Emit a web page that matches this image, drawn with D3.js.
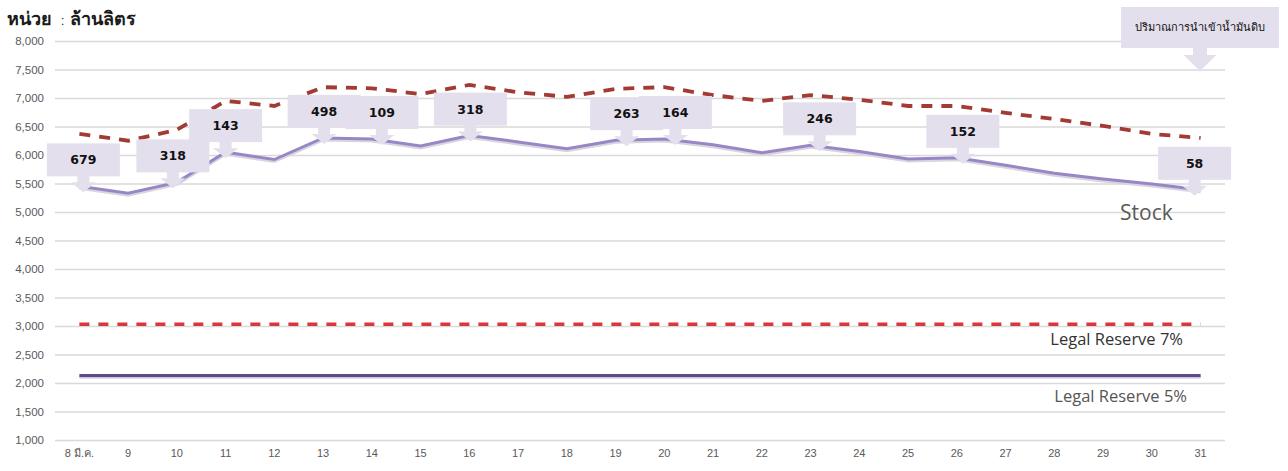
<!DOCTYPE html>
<html>
<head>
<meta charset="utf-8">
<script src="https://cdn.jsdelivr.net/npm/d3@7"></script>
<style>
  body { margin: 0; background: #fff; }
  svg { display: block; font-family: "Liberation Sans", Arial, "Noto Sans", sans-serif; }
</style>
</head>
<body>
<svg id="chart" width="1288" height="471"></svg>
<script>
// ---- data ----
const days = ["8 มี.ค.", "9", "10", "11", "12", "13", "14", "15", "16", "17", "18", "19",
              "20", "21", "22", "23", "24", "25", "26", "27", "28", "29", "30", "31"];
const stock = [5450, 5330, 5520, 6050, 5920, 6300, 6280, 6160, 6340, 6230, 6110, 6260,
               6280, 6180, 6040, 6170, 6060, 5930, 5950, 5820, 5680, 5580, 5490, 5390];
const stockPlusImport = [6370, 6250, 6440, 6950, 6860, 7190, 7170, 7070, 7230, 7100, 7020, 7160,
                         7190, 7050, 6950, 7050, 6970, 6860, 6860, 6740, 6630, 6510, 6370, 6300];
const legalReserve7 = 3030;
const legalReserve5 = 2130;
const importDays = ["8 มี.ค.", "10", "11", "13", "14", "16", "19", "20", "23", "26", "31"];
const importValues = [679, 318, 143, 498, 109, 318, 263, 164, 246, 152, 58];
const yTicks = [1000, 1500, 2000, 2500, 3000, 3500, 4000, 4500, 5000, 5500, 6000, 6500, 7000, 7500, 8000];

// ---- layout (not data) ----
const calloutNudge = [4, -4, 0, 1, 10, 1, 11, 11, 9, 6, -6];

const svg = d3.select("#chart");
const x = d3.scaleBand().domain(days).range([55, 1225]).padding(0);
const y = d3.scaleLinear().domain([1000, 8000]).range([440, 41]);
const cx = d => x(d) + x.bandwidth() / 2;

// grid + y labels
const yAxis = svg.append("g").attr("transform", "translate(55,0)")
  .call(d3.axisLeft(y).tickValues(yTicks).tickSize(-1170).tickSizeOuter(0).tickPadding(11)
    .tickFormat(d3.format(",")));
yAxis.select(".domain").remove();
yAxis.selectAll(".tick line").attr("stroke", "#d9d9d9").attr("stroke-width", 1.3);
yAxis.selectAll(".tick text").attr("fill", "#595959").attr("font-size", 11.5)
  .attr("font-family", "'Liberation Sans', Arial, sans-serif");

// x labels
const xAxis = svg.append("g").attr("transform", "translate(0,440)")
  .call(d3.axisBottom(x).tickSize(0).tickPadding(9));
xAxis.select(".domain").remove();
xAxis.selectAll(".tick text").attr("fill", "#595959").attr("font-size", 11);

// title
svg.append("text").attr("x", 7).attr("y", 25).attr("font-size", 18).attr("font-weight", "bold")
  .attr("fill", "#1a1a1a")
  .html('หน่วย <tspan font-size="12" font-weight="normal" dx="4">:</tspan><tspan dx="6">ล้านลิตร</tspan>');

// legal reserve lines
const x0 = cx(days[0]), x1 = cx(days[days.length - 1]);
svg.append("line").attr("x1", x0).attr("x2", x1)
  .attr("y1", y(legalReserve7)).attr("y2", y(legalReserve7))
  .attr("stroke", "#d9363e").attr("stroke-width", 3.5).attr("stroke-dasharray", "10,9");
svg.append("line").attr("x1", x0).attr("x2", x1)
  .attr("y1", y(legalReserve5) + 1.5).attr("y2", y(legalReserve5) + 1.5)
  .attr("stroke", "#c9c3d6").attr("stroke-width", 3);
svg.append("line").attr("x1", x0).attr("x2", x1)
  .attr("y1", y(legalReserve5)).attr("y2", y(legalReserve5))
  .attr("stroke", "#5c4a8a").attr("stroke-width", 3);

// lines
const line = d3.line().x((d, i) => cx(days[i])).y(d => y(d));
svg.append("path").datum(stockPlusImport).attr("d", line).attr("fill", "none")
  .attr("stroke", "#a33b35").attr("stroke-width", 3.8).attr("stroke-dasharray", "11,9");
svg.append("path").datum(stock).attr("d", line).attr("fill", "none")
  .attr("stroke", "#d8d5de").attr("stroke-width", 3).attr("transform", "translate(0,2)");
svg.append("path").datum(stock).attr("d", line).attr("fill", "none")
  .attr("stroke", "#9887c6").attr("stroke-width", 3);

// text labels
svg.append("text").attr("x", 1120).attr("y", 220).attr("font-size", 21)
  .attr("font-family", "'Open Sans', 'Noto Sans', sans-serif").attr("fill", "#595959").text("Stock");
svg.append("text").attr("x", 1183).attr("y", 345).attr("text-anchor", "end").attr("font-size", 16.5)
  .attr("font-family", "'Open Sans', 'Noto Sans', sans-serif").attr("fill", "#333").text("Legal Reserve 7%");
svg.append("text").attr("x", 1187).attr("y", 402).attr("text-anchor", "end").attr("font-size", 16.5)
  .attr("font-family", "'Open Sans', 'Noto Sans', sans-serif").attr("fill", "#555").text("Legal Reserve 5%");

// callouts
const fill = "#e4dfec";
function callout(g, tipX, tipY, boxW, boxH, stemW, stemH, headW, headH, boxCx) {
  const bBottom = tipY - headH - stemH;
  g.append("rect").attr("x", boxCx - boxW / 2).attr("y", bBottom - boxH)
    .attr("width", boxW).attr("height", boxH).attr("fill", fill);
  g.append("path").attr("fill", fill).attr("d",
    `M${tipX - stemW / 2},${bBottom - 1} L${tipX + stemW / 2},${bBottom - 1} L${tipX + stemW / 2},${bBottom + stemH}
     L${tipX + headW / 2},${bBottom + stemH} L${tipX},${tipY} L${tipX - headW / 2},${bBottom + stemH}
     L${tipX - stemW / 2},${bBottom + stemH} Z`);
  return bBottom - boxH;
}
const cg = svg.append("g");
importDays.forEach((d, k) => {
  const i = days.indexOf(d);
  const px = cx(d) + calloutNudge[k];
  const tipY = y(stock[i]) + 6;
  const g = cg.append("g");
  const top = callout(g, px, tipY, 73, 33, 12, 6, 25, 10, px);
  g.append("text").attr("x", px).attr("y", top + 21).attr("text-anchor", "middle")
    .attr("font-size", 12.5).attr("font-weight", "bold").attr("fill", "#111")
    .attr("font-family", "'DejaVu Sans', Verdana, sans-serif").text(importValues[k]);
});

// legend callout (top right)
const lg = svg.append("g");
callout(lg, 1200, 71, 158, 41, 14, 7, 33, 16, 1200);
lg.append("text").attr("x", 1200).attr("y", 31).attr("text-anchor", "middle")
  .attr("font-size", 11).attr("fill", "#111").text("ปริมาณการนำเข้าน้ำมันดิบ");
</script>
</body>
</html>
